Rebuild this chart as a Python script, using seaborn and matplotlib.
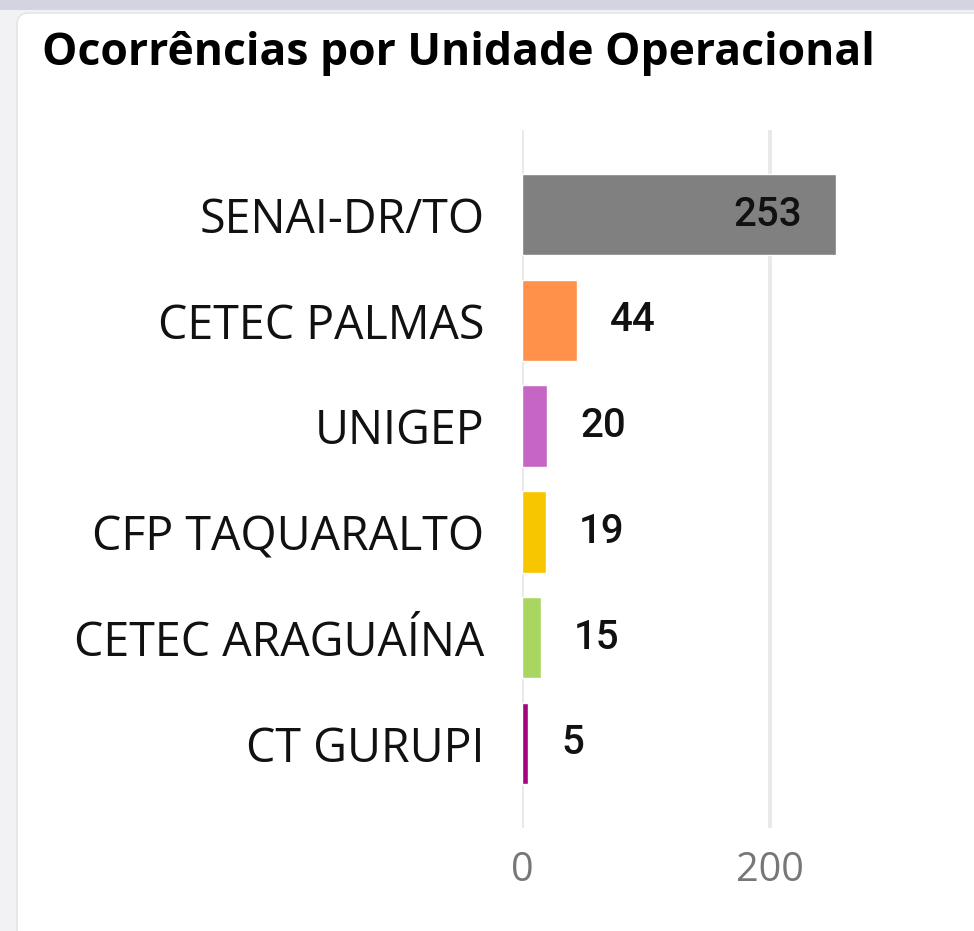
import matplotlib
matplotlib.use("Agg")
import matplotlib.pyplot as plt
import seaborn as sns
import pandas as pd
from matplotlib.patches import FancyBboxPatch, Rectangle

categories = ["SENAI-DR/TO", "CETEC PALMAS", "UNIGEP", "CFP TAQUARALTO", "CETEC ARAGUAÍNA", "CT GURUPI"]
values = [253, 44, 20, 19, 15, 5]
colors = ["#808080", "#FF914A", "#C566C4", "#F7C600", "#A9D661", "#A5047F"]
x_ticks = [0, 200]
title = "Ocorrências por Unidade Operacional"

df = pd.DataFrame({"unidade": categories, "ocorrencias": values})

sns.set_theme(style="white")
plt.rcParams["font.family"] = ["Open Sans", "DejaVu Sans"]

W, H = 974, 931
fig = plt.figure(figsize=(W / 100, H / 100), dpi=100)
fig.patch.set_facecolor("#f2f2f5")

# top band and card
fig.add_artist(Rectangle((0, 1 - 10 / H), 1, 10 / H, transform=fig.transFigure,
                         facecolor="#d3d3e2", edgecolor="none", zorder=0))
fig.add_artist(FancyBboxPatch((17 / W, -0.05), 1.2, 1 - 13 / H + 0.05,
                              boxstyle="round,pad=0,rounding_size=0.012",
                              transform=fig.transFigure, facecolor="white",
                              edgecolor="#e4e4ea", linewidth=1.2, zorder=0))

ax = fig.add_axes([522 / W, 1 - 828 / H, (894 - 522) / W, (828 - 130) / H])
ax.set_facecolor("none")

sns.barplot(data=df, y="unidade", x="ocorrencias", hue="unidade",
            palette=colors, orient="h", width=0.77, legend=False,
            saturation=1, ax=ax, zorder=3)

ax.set_xlim(0, 300)
ax.set_ylim(5.8, -0.8)
ax.set_xticks(x_ticks)
ax.set_xticklabels([str(t) for t in x_ticks])
ax.xaxis.grid(True, color="#e9e9e9", linewidth=2.8, zorder=0)
ax.set_axisbelow(True)
for s in ax.spines.values():
    s.set_visible(False)
ax.tick_params(axis="x", length=0, pad=16, labelsize=28.5, labelcolor="#777777")
ax.tick_params(axis="y", length=0, pad=27, labelsize=33.5, labelcolor="#111111")
ax.set_xlabel("")
ax.set_ylabel("")

for i, v in enumerate(values):
    if v > 150:
        ax.annotate(str(v), xy=(v, i), xytext=(-24, 0), textcoords="offset points",
                    ha="right", va="center", fontsize=29, fontfamily="Roboto",
                    fontweight="medium", color="#111111", zorder=5)
    else:
        ax.annotate(str(v), xy=(v, i), xytext=(24, 0), textcoords="offset points",
                    ha="left", va="center", fontsize=29, fontfamily="Roboto",
                    fontweight="medium", color="#111111", zorder=5)

fig.text(42 / W, 1 - 54 / H, title, ha="left", va="center", fontsize=32,
         fontweight="bold", color="black")

fig.savefig("out.png", dpi=100, facecolor=fig.get_facecolor())
